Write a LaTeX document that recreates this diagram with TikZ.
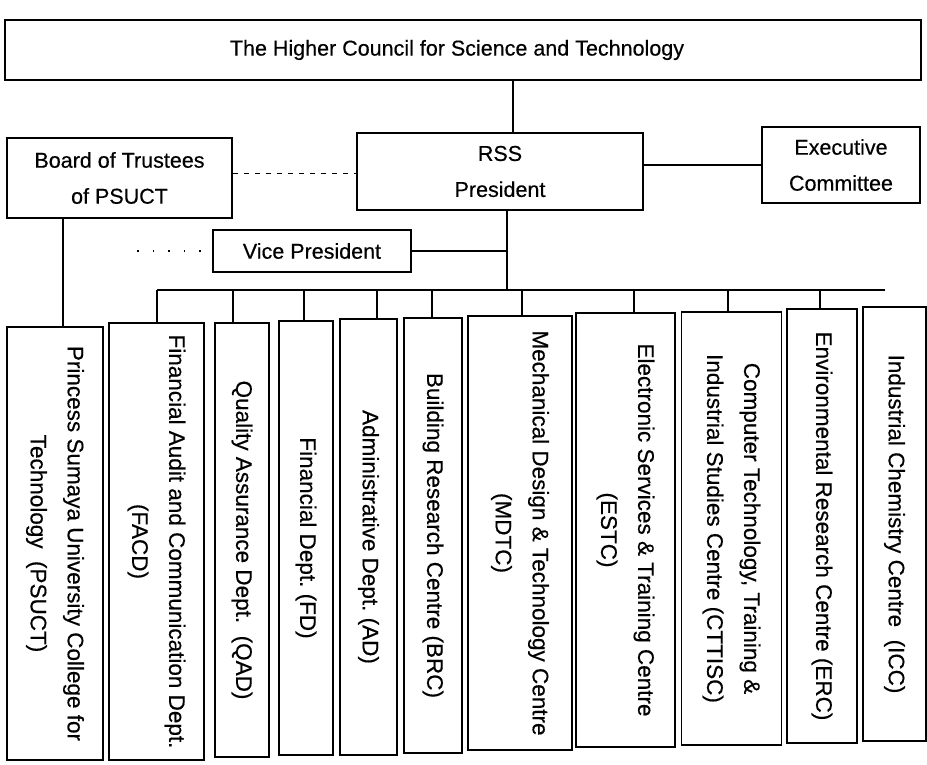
\documentclass[tikz,border=0pt]{standalone}
\usepackage{fontspec}
\setmainfont{Liberation Sans}
\newfontfamily\chartfont[FakeBold=0.4]{Liberation Sans}
\frenchspacing
\begin{document}
\begin{tikzpicture}[x=1pt,y=-1pt,
  line width=1.5pt,
  hbox/.style={draw, rectangle, inner sep=2pt, align=center,
    font=\chartfont\fontsize{21.5}{36}\selectfont},
  dept/.style={draw, rectangle, inner sep=2pt, align=center, rotate=-90,
    font=\chartfont\fontsize{22.5}{37}\selectfont},
  link/.style={draw, line width=1.5pt}]
\useasboundingbox (0,0) rectangle (927,764);

% upper boxes
\node[hbox, minimum width=916, minimum height=60] (top) at (463,50)
  {\hspace*{-12pt}The Higher Council for Science and Technology};
\node[hbox, minimum width=225, minimum height=80] (board) at (119.5,178)
  {Board of Trustees\\of PSUCT};
\node[hbox, minimum width=286, minimum height=77] (rss) at (500,171.5)
  {RSS\\President};
\node[hbox, minimum width=158, minimum height=76] (exec) at (841,165)
  {Executive\\Committee};
\node[hbox, minimum width=198, minimum height=42] (vp) at (312,251)
  {Vice President};

% departments (rotated: minimum width = vertical extent)
\node[dept, minimum width=433, minimum height=96] (psuct) at (55,543.5)
  {Princess Sumaya University College for\\Technology~~(PSUCT)};
\node[dept, minimum width=437, minimum height=95] (facd) at (156.5,541.5)
  {Financial Audit and Communication Dept.\\(FACD)};
\node[dept, minimum width=434, minimum height=54] (qad) at (242,540)
  {Quality Assurance Dept.~~(QAD)};
\node[dept, minimum width=434, minimum height=54] (fd) at (306,538)
  {Financial Dept. (FD)};
\node[dept, minimum width=436, minimum height=57] (ad) at (368.5,537)
  {Administrative Dept. (AD)};
\node[dept, minimum width=435, minimum height=58] (brc) at (433,535.5)
  {Building Research Centre (BRC)};
\node[dept, minimum width=434, minimum height=104] (mdtc) at (520,533)
  {Mechanical Design \& Technology Centre\\(MDTC)};
\node[dept, minimum width=434, minimum height=99] (estc) at (625.5,530)
  {Electronic Services \& Training Centre\\(ESTC)};
\node[dept, minimum width=433, minimum height=100] (cttisc) at (731.5,528.5)
  {Computer Technology, Training \&\\Industrial Studies Centre (CTTISC)};
\node[dept, minimum width=434, minimum height=70] (erc) at (822,526)
  {Environmental Research Centre (ERC)};
\node[dept, minimum width=434, minimum height=63] (icc) at (894.5,524)
  {Industrial Chemistry Centre~~(ICC)};

% helper coordinates
\coordinate (t1) at (513,80);
\coordinate (trunk) at (507,290);
\coordinate (busL) at (157,290);
\coordinate (busR) at (885,290);
\coordinate (dotend) at (137,251);
\coordinate (d2) at (233,290);
\coordinate (d3) at (304,290);
\coordinate (d4) at (377,290);
\coordinate (d5) at (432,290);
\coordinate (d6) at (522,290);
\coordinate (d7) at (634,290);
\coordinate (d8) at (728,290);
\coordinate (d9) at (820,290);

% connectors
\draw[link] (t1 |- top.south) -- (t1 |- rss.north);
\draw[link, dash pattern=on 5pt off 6pt, line width=1pt]
  ([yshift=5pt]board.east) -- ([yshift=5pt]board.east -| rss.west);
\draw[link] (exec.west -| rss.east) -- (exec.west);
\draw[link] (trunk |- rss.south) -- (trunk);
\draw[link] (vp.east) -- (vp.east -| trunk);
\draw[link, line width=1.2pt, dash pattern=on 1.5pt off 14pt] (dotend) -- (vp.west);
\draw[link] (board.south -| 63,0) -- (psuct.west -| 63,0);
\draw[link] (busL) -- (busR);
\draw[link] (busL) -- (busL |- facd.west);
\draw[link] (d2) -- (d2 |- qad.west);
\draw[link] (d3) -- (d3 |- fd.west);
\draw[link] (d4) -- (d4 |- ad.west);
\draw[link] (d5) -- (d5 |- brc.west);
\draw[link] (d6) -- (d6 |- mdtc.west);
\draw[link] (d7) -- (d7 |- estc.west);
\draw[link] (d8) -- (d8 |- cttisc.west);
\draw[link] (d9) -- (d9 |- erc.west);
\end{tikzpicture}
\end{document}
